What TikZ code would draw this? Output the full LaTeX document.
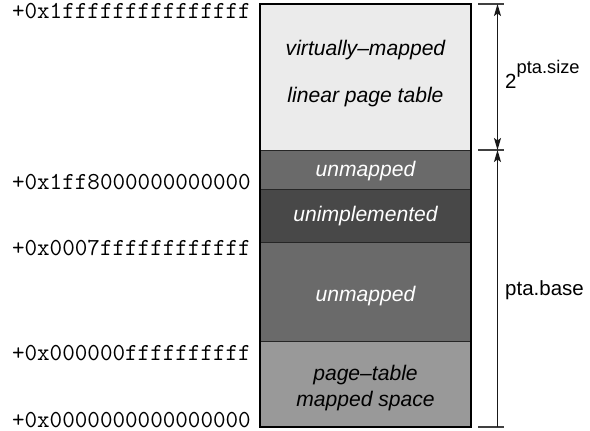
\documentclass[tikz,border=0pt]{standalone}
\usepackage{fontspec}
\setmainfont{Liberation Sans}
\setsansfont{Liberation Sans}
\usetikzlibrary{arrows.meta}
\definecolor{cTop}{HTML}{EBEBEB}
\definecolor{cUnm}{HTML}{6A6A6A}
\definecolor{cUni}{HTML}{484848}
\definecolor{cPt}{HTML}{999999}
\begin{document}
\begin{tikzpicture}[x=1pt,y=-1pt,
  region/.style={draw=black!85, line width=1pt, minimum width=211pt, inner sep=0pt, outer sep=0pt},
  intext/.style={font=\fontsize{21.1}{23}\selectfont\itshape, anchor=base, inner sep=0pt},
  addr/.style={font=\fontsize{24.4}{26}\ttfamily, anchor=base east, inner sep=0pt},
  side/.style={font=\fontsize{20.5}{22}\selectfont, anchor=base west, inner sep=0pt},
  tick/.style={line width=1.1pt, black!75},
  dim/.style={line width=1.1pt, black!90},
  dimtip/.tip={Stealth[length=12pt,width=7pt,inset=2.5pt]}]
\useasboundingbox (0,0) rectangle (590,431);
% regions
\node[region, fill=cTop, minimum height=146pt] (top) at (365.5,77) {};
\node[region, fill=cUnm, minimum height=39pt] (unm1) at (365.5,169.5) {};
\node[region, fill=cUni, minimum height=53pt] (uni) at (365.5,215.5) {};
\node[region, fill=cUnm, minimum height=99pt] (unm2) at (365.5,291.5) {};
\node[region, fill=cPt, minimum height=86pt] (pt) at (365.5,384) {};
\draw[line width=1.2pt] (top.north west) rectangle (pt.south east);
% region texts
\node[intext] (t1) at (365.5,56) {virtually\textendash mapped};
\node[intext] (t2) at (365.5,102) {linear page table};
\node[intext, white] (t3) at (365.5,176) {unmapped};
\node[intext, white] (t4) at (365.5,221.5) {unimplemented};
\node[intext, white] (t5) at (365.5,301.5) {unmapped};
\node[intext] (t6) at (365.5,380) {page\textendash table};
\node[intext] (t7) at (365.5,406.5) {mapped space};
% addresses
\node[addr] (a1) at (251,18) {+0x1fffffffffffffff};
\node[addr] (a2) at (251,189) {+0x1ff8000000000000};
\node[addr] (a3) at (251,255) {+0x0007ffffffffffff};
\node[addr] (a4) at (251,360) {+0x000000ffffffffff};
\node[addr] (a5) at (251,427) {+0x0000000000000000};
% dimension ticks
\coordinate (k1a) at (478,4);   \coordinate (k1b) at (504,4);
\coordinate (k2a) at (478,150); \coordinate (k2b) at (504,150);
\coordinate (k3a) at (478,427); \coordinate (k3b) at (504,427);
\coordinate (d1) at (497.5,4);
\coordinate (d2) at (497.5,150);
\coordinate (d3) at (497.5,427);
\draw[tick] (k1a) -- (k1b);
\draw[tick] (k2a) -- (k2b);
\draw[tick] (k3a) -- (k3b);
\draw[dim, dimtip-dimtip] (d1) -- (d2);
\draw[dim, dimtip-] (d2) -- (d3);
% side labels
\node[side] (s1) at (505,88) {2\raisebox{14.5pt}{\fontsize{18.3}{20}\selectfont pta.size}};
\node[side] (s2) at (505,295) {pta.base};
\end{tikzpicture}
\end{document}
